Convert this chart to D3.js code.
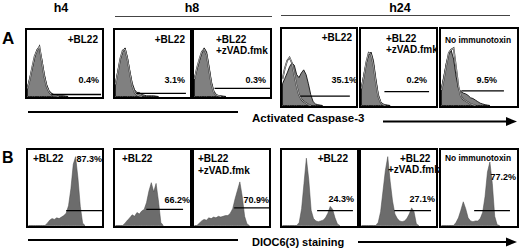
<!DOCTYPE html>
<html>
<head>
<meta charset="utf-8">
<script src="https://cdn.jsdelivr.net/npm/d3@7"></script>
<style>
  body { margin: 0; background: #fff; }
  text { font-family: "Liberation Sans", Arial, sans-serif; font-weight: bold; fill: #000; }
</style>
</head>
<body>
<svg id="fig" width="520" height="251"></svg>
<script>

//Data: histograms as % of panel height per channel bin
var nBins = 32;

var timeGroups = ["h4", "h8", "h24"];
var treatments = [["+BL22"], ["+BL22"], ["+BL22", "+zVAD.fmk"], ["+BL22"], ["+BL22", "+zVAD.fmk"], ["No immunotoxin"]];
var caspasePct = ["0.4%", "3.1%", "0.3%", "35.1%", "0.2%", "9.5%"];
var diocPct = ["87.3%", "66.2%", "70.9%", "24.3%", "27.1%", "77.2%"];

//gate markers [startBin, endBin, level%]
var caspaseGates = [[10.0, 30.8, 3], [8.7, 29.5, 4.5], [8.3, 31.2, 12], [7.6, 28.6, 12], [9.6, 28.3, 18], [8.2, 25.8, 19]];
var diocGates = [[16.0, 31.6, 19.5], [12.9, 28.3, 21], [16.6, 32, 23], [14.5, 29.5, 19.5], [13.7, 29.1, 19.5], [13.5, 28.3, 19.5]];

//Activated caspase-3, treated sample
var caspH4 = [14, 28, 42, 58, 70, 72, 55, 34, 18, 9, 5, 3, 2, 1, 1, 1, 0.5, 0];
var caspH8 = [20, 38, 55, 66, 72, 58, 38, 20, 10, 6, 6, 3, 2, 1, 1, 1, 1, 0.5, 0];
var caspH8z = [28, 40, 52, 64, 72, 66, 45, 22, 8, 3, 1, 1, 0.5, 0];
var caspH24 = [28, 35, 42, 50, 55, 52, 40, 36, 42, 46, 40, 28, 14, 5, 2, 1, 0.5, 0];
var caspH24z = [24, 40, 55, 65, 69, 58, 35, 15, 5, 2, 1, 0.5, 0];
var caspH24c = [23, 38, 55, 66, 71, 60, 38, 22, 18, 16, 15, 13, 10, 9, 7, 5, 3, 2, 1, 0.5, 0];

//Activated caspase-3, control overlay
var ctrlH4 = [12, 26, 44, 60, 68, 74, 52, 30, 15, 7, 3, 1, 1, 0];
var ctrlH8 = [18, 36, 56, 68, 70, 55, 35, 16, 6, 2, 1, 0];
var ctrlH8z = [26, 42, 55, 66, 70, 62, 40, 18, 6, 2, 1, 0];
var ctrlH24 = [34, 48, 58, 62, 55, 40, 25, 14, 8, 5, 3, 1, 0];
var ctrlH24z = [22, 38, 56, 68, 66, 52, 30, 12, 4, 1, 0];
var ctrlH24c = [20, 35, 52, 68, 72, 74, 50, 25, 12, 8, 6, 4, 2, 1, 0];

//DIOC6(3) staining
var diocH4 = [0, 0, 0, 0, 0, 0, 0, 0, 3, 7, 9, 8, 10, 9, 11, 13, 16, 26, 48, 80, 90, 62, 25, 3, 0];
var diocH8 = [0, 0, 0, 0, 3, 7, 10, 14, 12, 17, 15, 19, 21, 30, 45, 56, 44, 55, 32, 4, 0];
var diocH8z = [0, 0, 3, 6, 8, 7, 10, 9, 11, 10, 12, 11, 12, 13, 13, 16, 22, 35, 46, 57, 38, 12, 2, 0];
var diocH24 = [0, 0, 0, 0, 0, 0, 0, 4, 22, 55, 88, 60, 20, 9, 6, 5, 6, 7, 10, 16, 25, 21, 10, 2, 0];
var diocH24z = [0, 0, 0, 0, 0, 0, 0, 4, 18, 45, 72, 90, 58, 32, 15, 9, 6, 5, 6, 9, 15, 23, 18, 2, 0];
var diocH24c = [0, 0, 0, 0, 0, 0, 4, 10, 20, 31, 22, 10, 6, 5, 6, 6, 9, 17, 38, 70, 83, 55, 12, 1, 0];

var caspSample = [caspH4, caspH8, caspH8z, caspH24, caspH24z, caspH24c];
var caspCtrl = [ctrlH4, ctrlH8, ctrlH8z, ctrlH24, ctrlH24z, ctrlH24c];
var diocSample = [diocH4, diocH8, diocH8z, diocH24, diocH24z, diocH24c];

//Layout
var boxesA = [
    {x: 26, y: 29, w: 77, h: 69, lab: {a: "end", x: 98, y: [43]}, pct: {x: 99, y: 83}},
    {x: 114, y: 29, w: 77, h: 69, lab: {a: "end", x: 185, y: [43]}, pct: {x: 185, y: 83}},
    {x: 193, y: 29, w: 78, h: 69, lab: {a: "start", x: 216, y: [43, 54]}, pct: {x: 266, y: 83}},
    {x: 281, y: 28, w: 76, h: 79, lab: {a: "end", x: 352, y: [41]}, pct: {x: 357, y: 83}},
    {x: 360, y: 28, w: 77, h: 79, lab: {a: "start", x: 386, y: [42, 53]}, pct: {x: 427, y: 83}},
    {x: 440, y: 28, w: 78, h: 79, lab: {a: "start", x: 445, y: [43], fs: "8.4px"}, pct: {x: 497, y: 83}}
];
var boxesB = [
    {x: 27, y: 149, w: 76, h: 78, lab: {a: "start", x: 33, y: [162]}, pct: {x: 102, y: 162}},
    {x: 114, y: 149, w: 77, h: 78, lab: {a: "start", x: 122, y: [162]}, pct: {x: 190, y: 203}},
    {x: 193, y: 149, w: 77, h: 78, lab: {a: "start", x: 198, y: [162, 174]}, pct: {x: 269, y: 203}},
    {x: 281, y: 149, w: 77, h: 78, lab: {a: "end", x: 348, y: [162]}, pct: {x: 354, y: 202}},
    {x: 360, y: 149, w: 77, h: 78, lab: {a: "start", x: [400, 388], y: [162, 173]}, pct: {x: 435, y: 202}},
    {x: 440, y: 149, w: 78, h: 78, lab: {a: "start", x: 445, y: [161], fs: "8.4px"}, pct: {x: 516, y: 180}}
];

var svg = d3.select("#fig");

//Draw one row of histogram panels
function drawRow(boxes, samples, controls, gates, pcts, fillColor) {
    boxes.forEach(function(b, i) {
        var g = svg.append("g").attr("class", "panel");

        var xScale = d3.scaleLinear()
            .domain([0, nBins - 1])
            .range([b.x + 1.5, b.x + b.w - 1.5]);
        var yScale = d3.scaleLinear()
            .domain([0, 100])
            .range([b.y + b.h - 1.5, b.y]);

        var area = d3.area()
            .x((d, j) => xScale(j))
            .y0(yScale(0))
            .y1(d => yScale(d));

        var line = d3.line()
            .x((d, j) => xScale(j))
            .y(d => yScale(d));

        g.append("path")
            .attr("d", area(samples[i]))
            .attr("fill", fillColor)
            .attr("stroke", controls ? "#111" : "#444")
            .attr("stroke-width", controls ? 0.9 : 0.5);

        if (controls) {
            g.append("path")
                .attr("d", line(controls[i]))
                .attr("fill", "none")
                .attr("stroke", "#222")
                .attr("stroke-width", 1.6);
            g.append("path")
                .attr("d", line(controls[i]))
                .attr("fill", "none")
                .attr("stroke", "#fff")
                .attr("stroke-width", 0.6);
        }

        //gate marker
        g.append("line")
            .attr("x1", xScale(gates[i][0]))
            .attr("x2", xScale(gates[i][1]))
            .attr("y1", yScale(gates[i][2]))
            .attr("y2", yScale(gates[i][2]))
            .attr("stroke", "#000")
            .attr("stroke-width", 1.3);

        //frame
        g.append("rect")
            .attr("x", b.x)
            .attr("y", b.y)
            .attr("width", b.w)
            .attr("height", b.h)
            .attr("fill", "none")
            .attr("stroke", "#000")
            .attr("stroke-width", 2);

        //treatment labels
        treatments[i].forEach(function(t, k) {
            var tx = Array.isArray(b.lab.x) ? b.lab.x[k] : b.lab.x;
            g.append("text")
                .attr("x", tx)
                .attr("y", b.lab.y[k])
                .attr("text-anchor", b.lab.a)
                .style("font-size", b.lab.fs || "10px")
                .text(t);
        });

        //percent label
        g.append("text")
            .attr("x", b.pct.x)
            .attr("y", b.pct.y)
            .attr("text-anchor", "end")
            .style("font-size", "9px")
            .text(pcts[i]);
    });
}

drawRow(boxesA, caspSample, caspCtrl, caspaseGates, caspasePct, "#808080");
drawRow(boxesB, diocSample, null, diocGates, diocPct, "#6c6c6c");

//Time headers
var headerX = [61, 192, 400];
svg.selectAll(".hdr")
    .data(timeGroups)
    .enter()
    .append("text")
        .attr("class", "hdr")
        .attr("x", (d, i) => headerX[i])
        .attr("y", 12)
        .attr("text-anchor", "middle")
        .style("font-size", "12.5px")
        .text(d => d);

svg.append("line")
    .attr("x1", 115).attr("x2", 272)
    .attr("y1", 16.5).attr("y2", 16.5)
    .attr("stroke", "#444").attr("stroke-width", 1);
svg.append("line")
    .attr("x1", 281).attr("x2", 510)
    .attr("y1", 15.5).attr("y2", 15.5)
    .attr("stroke", "#444").attr("stroke-width", 1);

//Row letters
svg.append("text").attr("x", 2).attr("y", 44).style("font-size", "17px").text("A");
svg.append("text").attr("x", 2).attr("y", 163).style("font-size", "16px").text("B");

//Axis arrows
function axisArrow(x1, y1, textX, textY, label, x2, y2, fs) {
    svg.append("line")
        .attr("x1", x1[0]).attr("x2", x1[1])
        .attr("y1", y1).attr("y2", y1)
        .attr("stroke", "#000").attr("stroke-width", 1.8);
    svg.append("text")
        .attr("x", textX)
        .attr("y", textY)
        .style("font-size", fs)
        .text(label);
    svg.append("line")
        .attr("x1", x2[0]).attr("x2", x2[1] - 8)
        .attr("y1", y2).attr("y2", y2)
        .attr("stroke", "#000").attr("stroke-width", 1.8);
    svg.append("path")
        .attr("d", "M" + (x2[1] - 11) + "," + (y2 - 4.5) + "L" + x2[1] + "," + y2 + "L" + (x2[1] - 11) + "," + (y2 + 4.5) + "Z")
        .attr("fill", "#000");
}

axisArrow([28, 238], 112, 252, 121.5, "Activated Caspase-3", [383, 517], 121.5, "11.5px");
axisArrow([28, 238], 240, 252, 245.5, "DIOC6(3) staining", [358, 517], 242, "11px");

</script>
</body>
</html>
